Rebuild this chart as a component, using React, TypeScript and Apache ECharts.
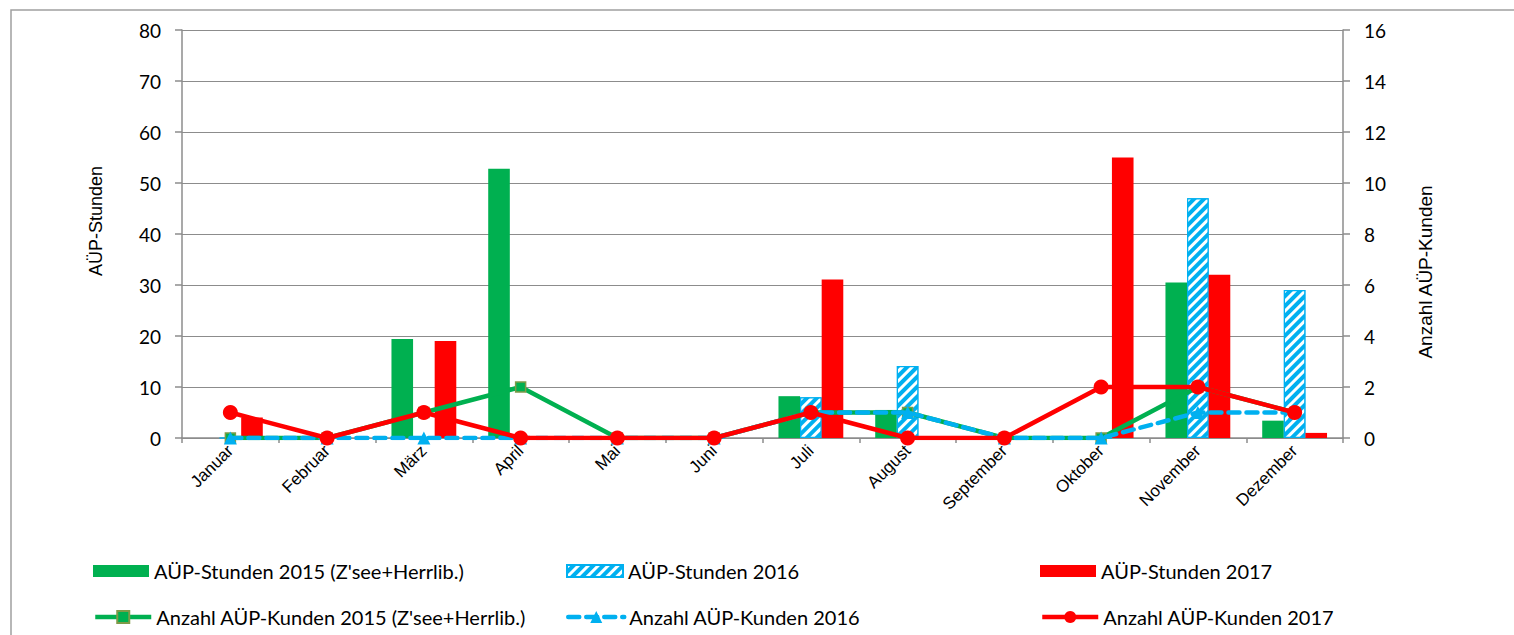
import React, { useEffect, useRef } from "react";
import * as echarts from "echarts";

const months = ["Januar", "Februar", "März", "April", "Mai", "Juni", "Juli", "August", "September", "Oktober", "November", "Dezember"];
const hours2015 = [0, 0, 19.4, 52.8, 0, 0, 8.2, 5.5, 0, 0, 30.5, 3.4];
const hours2016 = [0, 0, 0, 0, 0, 0, 8, 14.1, 0, 0, 47, 29];
const hours2017 = [4, 0, 19, 0, 0, 0, 31.1, 0, 0, 55, 32, 1];
const kunden2015 = [0, 0, 1, 2, 0, 0, 1, 1, 0, 0, 2, 1];
const kunden2016 = [0, 0, 0, 0, 0, 0, 1, 1, 0, 0, 1, 1];
const kunden2017 = [1, 0, 1, 0, 0, 0, 1, 0, 0, 2, 2, 1];
const leftTicks = { min: 0, max: 80, interval: 10 };
const rightTicks = { min: 0, max: 16, interval: 2 };

const names = {
  h15: "AÜP-Stunden 2015 (Z'see+Herrlib.)",
  h16: "AÜP-Stunden 2016",
  h17: "AÜP-Stunden 2017",
  k15: "Anzahl AÜP-Kunden 2015 (Z'see+Herrlib.)",
  k16: "Anzahl AÜP-Kunden 2016",
  k17: "Anzahl AÜP-Kunden 2017",
};

const GREEN = "#00b050";
const BLUE = "#00b0f0";
const RED = "#ff0000";
const GRID = "#8c8c8c";
const LEG_FONT = "Lato";
const AX_FONT = "Liberation Sans";

export default function App() {
  const ref = useRef<HTMLDivElement>(null);
  useEffect(() => {
    if (!ref.current) return;
    const chart = echarts.init(ref.current, undefined, { renderer: "svg" });
    const hatch = {
      symbol: "rect",
      symbolSize: 1,
      color: "#ffffff",
      dashArrayX: [1, 0],
      dashArrayY: [3, 4],
      rotation: -Math.PI / 4,
    };
    const legendBase = {
      orient: "horizontal",
      padding: 0,
      itemWidth: 56,
      itemHeight: 12,
      itemGap: 6,
      textStyle: { fontFamily: LEG_FONT, fontSize: 20, color: "#000" },
    };
    const lineLegend = {
      ...legendBase,
      itemHeight: 15,
      lineStyle: { width: 4.5 },
    };
    const option: any = {
      animation: false,
      backgroundColor: "#ffffff",
      grid: { left: 182, right: 171, top: 30, bottom: 197, containLabel: false },
      graphic: [
        {
          type: "rect",
          shape: { x: 11, y: 10, width: 1530, height: 700 },
          style: { fill: "none", stroke: "#a0a0a0", lineWidth: 1.5 },
          silent: true,
          z: -10,
        },
        {
          type: "text",
          x: 96,
          y: 221,
          rotation: Math.PI / 2,
          style: { text: "AÜP-Stunden", fontFamily: AX_FONT, fontSize: 18, fill: "#000", align: "center", verticalAlign: "middle" },
        },
        {
          type: "text",
          x: 1425,
          y: 272,
          rotation: Math.PI / 2,
          style: { text: "Anzahl AÜP-Kunden", fontFamily: AX_FONT, fontSize: 19, fill: "#000", align: "center", verticalAlign: "middle" },
        },
      ],
      legend: [
        { ...legendBase, data: [{ name: names.h15, icon: "rect" }], left: 93, top: 561 },
        { ...legendBase, data: [{ name: names.h16, icon: "rect" }], left: 566, top: 561 },
        { ...legendBase, data: [{ name: names.h17, icon: "rect" }], left: 1040, top: 561 },
        { ...lineLegend, data: [{ name: names.k15 }], left: 93, top: 607 },
        { ...lineLegend, data: [{ name: names.k16 }], left: 566, top: 607 },
        { ...lineLegend, data: [{ name: names.k17 }], left: 1040, top: 607 },
      ],
      xAxis: {
        type: "category",
        data: months,
        boundaryGap: true,
        axisLine: { show: true, lineStyle: { color: GRID, width: 1.5 } },
        axisTick: { show: true, length: 5, lineStyle: { color: GRID, width: 1.5 } },
        axisLabel: { rotate: 45, fontFamily: AX_FONT, fontSize: 17, color: "#000", margin: 10, interval: 0 },
      },
      yAxis: [
        {
          type: "value",
          ...leftTicks,
          position: "left",
          axisLine: { show: true, lineStyle: { color: GRID, width: 1.5 } },
          axisTick: { show: true, length: 7, lineStyle: { color: GRID, width: 1.5 } },
          splitLine: { show: true, lineStyle: { color: GRID, width: 1.2 } },
          axisLabel: { fontFamily: LEG_FONT, fontSize: 19, color: "#000", margin: 21 },
        },
        {
          type: "value",
          ...rightTicks,
          position: "right",
          axisLine: { show: true, lineStyle: { color: GRID, width: 1.5 } },
          axisTick: { show: true, length: 7, lineStyle: { color: GRID, width: 1.5 } },
          splitLine: { show: false },
          axisLabel: { fontFamily: LEG_FONT, fontSize: 19, color: "#000", margin: 21 },
        },
      ],
      series: [
        {
          name: names.h15,
          type: "bar",
          data: hours2015,
          barGap: "0%",
          barCategoryGap: "33%",
          itemStyle: { color: GREEN },
          z: 2,
        },
        {
          name: names.h16,
          type: "bar",
          data: hours2016,
          barGap: "0%",
          barCategoryGap: "33%",
          itemStyle: { color: BLUE, borderColor: BLUE, borderWidth: 1.2, decal: hatch },
          z: 2,
        },
        {
          name: names.h17,
          type: "bar",
          data: hours2017,
          barGap: "0%",
          barCategoryGap: "33%",
          itemStyle: { color: RED },
          z: 2,
        },
        {
          name: names.k15,
          type: "line",
          yAxisIndex: 1,
          data: kunden2015,
          symbol: "rect",
          symbolSize: 10,
          lineStyle: { color: GREEN, width: 4.5 },
          itemStyle: { color: GREEN, borderColor: "#7f9a48", borderWidth: 1.5 },
          z: 3,
        },
        {
          name: names.k16,
          type: "line",
          yAxisIndex: 1,
          data: kunden2016,
          symbol: "triangle",
          symbolSize: 13,
          lineStyle: { color: BLUE, width: 4.5, type: [11, 7], cap: "round" },
          itemStyle: { color: BLUE },
          z: 4,
        },
        {
          name: names.k17,
          type: "line",
          yAxisIndex: 1,
          data: kunden2017,
          symbol: "circle",
          symbolSize: 15,
          lineStyle: { color: RED, width: 4.5 },
          itemStyle: { color: RED },
          z: 5,
        },
      ],
    };
    chart.setOption(option);
    return () => chart.dispose();
  }, []);
  return (
    <div
      ref={ref}
      style={{ position: "fixed", left: 0, top: 0, width: 1514, height: 635, background: "#fff" }}
    />
  );
}
